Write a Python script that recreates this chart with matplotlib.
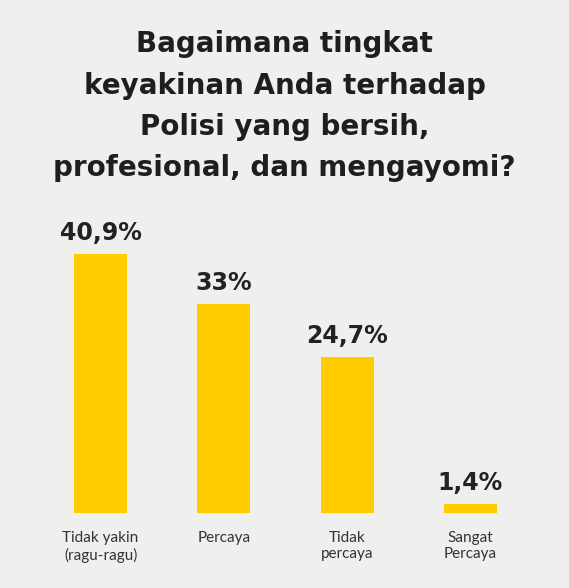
import matplotlib
matplotlib.use("Agg")
import matplotlib.pyplot as plt

# data
categories = ["Tidak yakin\n(ragu-ragu)", "Percaya", "Tidak\npercaya", "Sangat\nPercaya"]
values = [40.9, 33.0, 24.7, 1.4]
value_labels = ["40,9%", "33%", "24,7%", "1,4%"]
title_lines = ["Bagaimana tingkat",
               "keyakinan Anda terhadap",
               "Polisi yang bersih,",
               "profesional, dan mengayomi?"]

BG = "#efefed"
YELLOW = "#ffcc00"

W, H = 569, 588
fig = plt.figure(figsize=(W / 100, H / 100), dpi=100, facecolor=BG)

# axes placed in pixel terms: bars sit on y=513px, 6.33 px per percent
ax = fig.add_axes([39 / W, 75 / H, 493 / W, 50 * 6.33 / H])
ax.set_facecolor("none")
x = range(len(values))
ax.bar(x, values, width=0.43, color=YELLOW, zorder=2)
ax.set_xlim(-0.5, 3.5)
ax.set_ylim(0, 50)

for i, (v, lab) in enumerate(zip(values, value_labels)):
    ax.annotate(lab, (i, v), xytext=(0, 10), textcoords="offset points",
                ha="center", va="baseline", fontsize=17, fontweight="bold",
                family="DejaVu Sans", color="#222222")

ax.set_xticks(list(x))
ax.set_xticklabels(categories, fontsize=11, family="Lato", color="#333333",
                   linespacing=1.2)
ax.tick_params(axis="x", length=0, pad=13)
ax.set_yticks([])
for s in ax.spines.values():
    s.set_visible(False)

# title, four centred lines
for k, line in enumerate(title_lines):
    fig.text(0.5, 1 - (52 + 41.5 * k) / H, line, ha="center", va="baseline",
             fontsize=20, fontweight="bold", family="DejaVu Sans",
             color="#1e1e1e")

fig.savefig("out.png", dpi=100, facecolor=BG)
